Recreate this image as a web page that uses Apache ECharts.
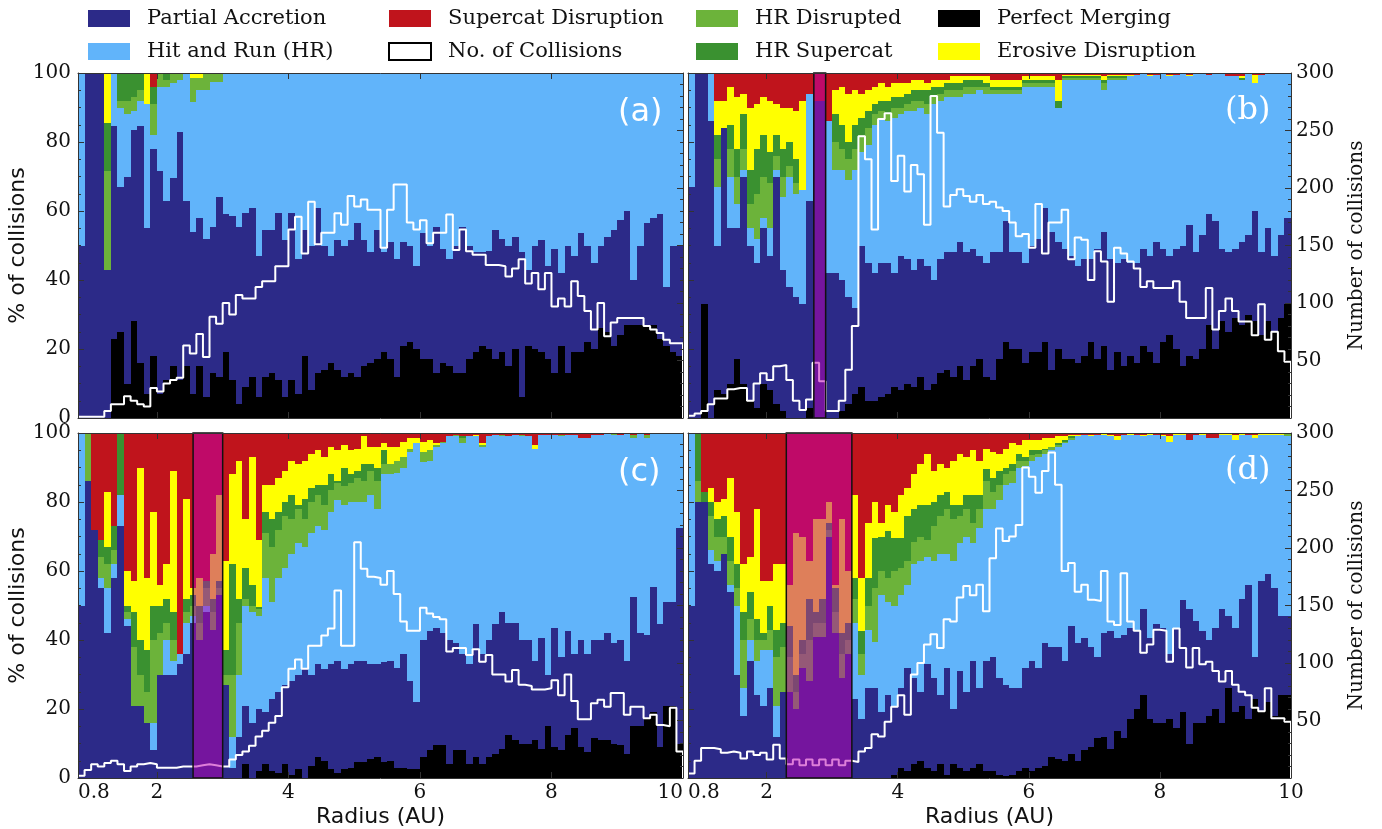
<!DOCTYPE html>
<html>
<head>
<meta charset="utf-8">
<title>Collision outcomes versus radius</title>
<script src="https://cdn.jsdelivr.net/npm/echarts@6.0.0/dist/echarts.min.js"></script>
<style>
html,body{margin:0;padding:0;background:#ffffff;}
#chart{width:1382px;height:829px;}
</style>
</head>
<body>
<div id="chart"></div>
<script>
// ================= DATA =================
// Radius bins: 0.1 AU wide, starting at 0.8 AU (92 bins up to 10 AU)
const radiusStart = 0.8;
const binWidth = 0.1;
const radiusEnd = 10;
const xTickLabels = [0.8, 2, 4, 6, 8, 10];
const xTickMarks = [2, 4, 6, 8];

// Legend / stack categories (bottom -> top)
const layerNames = ['Perfect Merging', 'Partial Accretion', 'Hit and Run (HR)', 'HR Disrupted', 'HR Supercat', 'Erosive Disruption', 'Supercat Disruption'];
const lineName = 'No. of Collisions';

// Each panel: cumulative top (% of collisions) of PM, PA, HR, HR Disrupted, HR Supercat, Erosive; Supercat fills to 100.
// ---- Panel (a)
const aPM = [0,0,0,0,0,23,25,10,28,16,
 7,18,7,11,15,11,15,7,15,6,
 13,12,19,11,4,9,12,6,12,13,
 11,6,11,7,18,8,13,14,16,14,
 12,13,12,15,16,17,19,17,12,21,
 22,20,17,17,13,16,15,13,13,17,
 19,21,20,17,19,15,20,6,21,20,
 19,17,13,21,13,19,19,22,20,26,
 25,21,24,27,27,27,27,27,23,21,
 19,18];
const aPA = [50,100,100,100,43,84.5,67,70,83.5,84.5,
 55,78,71.5,63,69.5,83,63,54,58,52,
 55.5,64,59,58.5,55.5,59.5,61,47,54.5,54.5,
 59.5,51.5,59.5,46,54.5,50,61,50,47,51.5,
 50,51.5,56.5,51.5,48,54.5,48,51,46,51,
 50,44,53.5,50,55.5,49,46,50,55.5,50,
 48,48,48.5,54.5,52,50,52.5,48,43,50,
 51.5,44,49,42,50,47,53.5,50,45,50,
 52.5,54.5,57.5,60,40,50,56.5,58,59,38,
 50,50];
const aHR = [100,100,100,100,43,100,90,88,89,92,
 91,82,96,96,97,98,100,91.5,95,95,
 97.5,97.5,100,100,100,100,100,100,100,100,
 100,100,100,100,100,100,100,100,100,100,
 100,100,100,100,100,100,100,100,100,100,
 100,100,100,100,100,100,100,100,100,100,
 100,100,100,100,100,100,100,100,100,100,
 100,100,100,100,100,100,100,100,100,100,
 100,100,100,100,100,100,100,100,100,100,
 100,100];
const aLG = [100,100,100,100,71.5,100,92,92,93,95,
 91,91,100,98,100,100,100,98.5,98.5,100,
 100,100,100,100,100,100,100,100,100,100,
 100,100,100,100,100,100,100,100,100,100,
 100,100,100,100,100,100,100,100,100,100,
 100,100,100,100,100,100,100,100,100,100,
 100,100,100,100,100,100,100,100,100,100,
 100,100,100,100,100,100,100,100,100,100,
 100,100,100,100,100,100,100,100,100,100,
 100,100];
const aDG = [100,100,100,100,85.5,100,100,100,100,100,
 91,96,100,100,100,100,100,98.5,98.5,100,
 100,100,100,100,100,100,100,100,100,100,
 100,100,100,100,100,100,100,100,100,100,
 100,100,100,100,100,100,100,100,100,100,
 100,100,100,100,100,100,100,100,100,100,
 100,100,100,100,100,100,100,100,100,100,
 100,100,100,100,100,100,100,100,100,100,
 100,100,100,100,100,100,100,100,100,100,
 100,100];
const aY = [100,100,100,100,100,100,100,100,100,100,
 100,96,100,100,100,100,100,100,100,100,
 100,100,100,100,100,100,100,100,100,100,
 100,100,100,100,100,100,100,100,100,100,
 100,100,100,100,100,100,100,100,100,100,
 100,100,100,100,100,100,100,100,100,100,
 100,100,100,100,100,100,100,100,100,100,
 100,100,100,100,100,100,100,100,100,100,
 100,100,100,100,100,100,100,100,100,100,
 100,100];
const aN = [1,1,1,1,6,12,12,19,15,12,
 10,26,23,30,33,35,63,56,73,53,
 88,82,100,90,107,104,104,114,119,119,
 132,132,164,175,143,188,151,161,161,178,
 168,193,184,190,181,181,148,181,203,203,
 170,164,172,152,161,161,177,146,164,145,
 142,142,133,133,132,123,130,138,117,126,
 112,126,97,104,97,119,106,93,77,100,
 71,83,87,87,87,87,80,77,74,68,
 65,65];

// ---- Panel (b)
const bPM = [0,0,33,0,8,7,10,17,10,5,
 3,10,8,4,2,0,0,0,3,0,
 0,0,0,2,4,7,9,5,5,6,
 7,9,8,10,9,12,8,10,13,14,
 12,15,11,15,17,12,11,17,22,20,
 20,16,19,19,22,14,20,17,17,16,
 18,22,17,21,14,19,15,18,16,21,
 19,16,22,24,20,15,18,17,20,27,
 20,28,25,29,27,30,28,24,28,25,
 29,33];
const bPA = [67,100,100,86,50,84,55,55,70,50,
 45,55,47,70,43,38,35,33,63,92,
 92,42,42,40,35,32,50,45,42,45,
 45,42,47,46,43,46,44,40,46,48,
 48,51,48,49,47,45,48,48,57,48,
 48,45,50,52,61,54,51,49,47,44,
 46,46,49,54,46,45,46,45,45,49,
 47,51,49,47,49,50,56,48,53,59,
 57,49,48,49,51,53,60,48,55,47,
 53,58];
const bHR = [100,100,100,100,67,84,70,62,72,55,
 52,58,55,72,64,70,65,66,94,92,
 92,86,72,72,69,72,77,79,85,87,
 86,87,88,89,89,90,88,91,92,93,
 93,93,94,94,95,94,94,94,94,94,
 94,96,96,96,96,96,90,98,98,98,
 98,98,98,95,98,98,98,99,99.5,100,
 99,99.5,100,99,99.5,100,99,100,100,99.5,
 100,100,99,99,98,100,97,99.5,100,100,
 100,100];
const bLG = [100,100,100,100,75,84,78,70,78,62,
 65,70,68,76,70,73,68,66,94,92,
 92,86,80,78,75,78,82,84,88,89,
 88,90,90,91,92,92,91,93,94,95,
 95,95,96,96,96,96,95,95,95,95,
 95,97,97,97,97,97,90,98.5,98.5,98.5,
 98.5,98.5,98.5,97,98.5,98.5,98.5,99,99.5,100,
 99,99.5,100,99,99.5,100,99,100,100,99.5,
 100,100,99,99,98,100,97,99.5,100,100,
 100,100];
const bDG = [100,100,100,100,82,84,85,78,88,72,
 78,82,77,82,78,80,75,66,94,92,
 92,86,88,85,80,85,87,89,91,92,
 92,93,93,94,95,95,95,96,96,97,
 97,97,98,98,98,97,96,96,96,96,
 96,98,98,98,98,98,92,99,99,99,
 99,99,99,98,99,99,99,99,99.5,100,
 99,99.5,100,99,99.5,100,99,100,100,99.5,
 100,100,99,99,98.5,100,97,99.5,100,100,
 100,100];
const bY = [100,100,100,100,92,92,96,93,94,90,
 91,93,92,91,90,90,89,92,94,92,
 92,86,95,96,94,95,94,95,96,97,
 96,97,97,97,98,98,97,98,98,98,
 99,99,99,99,99,99,98,98,98,98,
 98,99,99,99,99,99,98,99.5,99.5,99.5,
 99.5,99.5,99.5,99,99.5,99.5,99.5,99.5,99.5,100,
 99.5,99.5,100,99.5,99.5,100,99.5,100,100,99.5,
 100,100,99,99,99,100,99.5,99.5,100,100,
 100,100];
const bN = [2,4,6,12,17,17,25,26,26,15,
 30,39,33,45,46,33,15,7,16,48,
 32,6,6,15,42,80,245,225,164,260,
 265,206,228,197,220,212,168,280,248,184,
 194,199,193,188,194,186,188,183,180,170,
 158,160,148,186,143,170,170,181,138,157,
 155,120,145,136,101,148,143,136,130,114,
 119,113,113,113,119,101,87,87,87,113,
 77,93,104,93,84,84,72,99,68,75,
 58,49];

// ---- Panel (c)
const cPM = [0,0,0,0,0,0,0,0,0,0,
 0,0,0,0,0,0,0,0,0,0,
 0,0,0,0,0,4,0,2,4,2,
 1.5,4,1,2.5,0,3.5,6,5,2.5,1.5,
 2.5,3,4.5,4.5,5.5,6,4.5,5,3,3,
 2.5,2.5,6,8,9.5,9.5,4,8,8,4,
 6,4,6,7,8.5,12.5,11,10,10,11,
 8.5,15,9,8,12.5,14.5,9,7.5,11.5,11,
 11,10,9.5,7,15,15,17,19,9,21,
 21,10];
const cPA = [50,86,72,55,42,58,73,44,21,21,
 16,8,30,30,30,33,36,45,40,48,
 43,53,27,3,12,21,16,20,19,23,
 25,27,28,30,31.5,30,33,31.5,33,34,
 31.5,33,34,34,33,33,33.5,34,32,36,
 28,22,40,42.5,43.5,42,40,39,36,33,
 44.5,36,40,44.5,48,45,45,40,40,34,
 40.5,30,43.5,35,42.5,36,40,36,40,40,
 42,39,40,34,52.5,42,41.5,55.5,44.5,51,
 51,72.5];
const cHR = [100,86,72,58,55,62,82,46,21,21,
 16,16,30,40,34,36,45,47,40,50,
 43,53,27,12,30,50,48,47,58,51,
 58,61,65,68,67,71,73,72,77,80.5,
 79,80,80,80,82,78,88,88,88.5,90,
 94.5,97,91.5,92,96,97,99,99,97,99,
 99,96,99,99.5,99,99,99.5,99,99,95.5,
 99.5,99.5,99.5,99,99.5,99.5,98.5,98.5,99.5,99.5,
 100,99.5,99.5,100,98.5,100,98.5,100,100,100,
 100,100];
const cLG = [100,100,72,64,62,66,82,48,38,30,
 25,40,42,45,40,36,48,50,45,55,
 48,55,30,30,45,52,50,49,71,67,
 72,76,75,78,75,80,82,79,83.5,85.5,
 84.5,85.5,87,86,89,86,91,91,92,93,
 95.5,97,94.5,95,96.5,97.5,99,99.5,98.5,99,
 99,96.5,99,99.5,99.5,99,99.5,99.5,99,95.5,
 99.5,99.5,99.5,99.5,99.5,99.5,98.5,98.5,99.5,99.5,
 100,100,99.5,100,99.5,100,99.5,100,100,100,
 100,100];
const cDG = [100,100,72,69,67,73,100,50,48,40,
 37,50,50,52,48,36,52,53,50,57,
 52,57,37,62,52,61,56,49.5,77,75,
 77,80,82,79,81,84,85,85,88,86,
 90,88,89,91,91,90,95,91,92,93,
 95.5,97,94.5,95,96.5,97.5,99,99.5,99,99,
 99,96.5,99,99.5,99.5,99,99.5,99.5,99,95.5,
 99.5,99.5,99.5,99.5,99.5,99.5,98.5,98.5,99.5,99.5,
 100,100,99.5,100,99.5,100,99.5,100,100,100,
 100,100];
const cY = [100,100,72,69,83,73,100,60,57,90,
 58,77,56,62,89,36,81,55,58,57,
 65,82,63,88,92,75,93,69,85,85,
 87,89,92,91,92,94,95,93,96,95,
 96.5,95,95.5,99,96,96,97,96,96,97.5,
 98.5,98.5,97.5,98,97,97.5,99,99.5,99,99,
 99.5,97,99,99.5,99.5,99,99.5,99.5,99,96.5,
 99.5,99.5,99.5,99.5,99.5,99.5,98.5,98.5,99.5,99.5,
 100,100,99.5,100,99.5,100,99.5,100,100,100,
 100,100];
const cN = [2,7,12,10,13,15,12,6,10,12,
 13,12,9,9,9,10,10,10,11,12,
 11,10,10,16,20,23,28,36,41,48,
 54,79,95,103,95,115,115,124,130,163,
 115,115,205,182,175,174,168,180,160,136,
 128,128,148,143,140,138,110,113,113,107,
 112,101,107,90,90,84,94,81,80,77,
 77,78,85,72,90,67,51,51,65,68,
 62,74,74,55,62,62,52,55,46,45,
 61,23];

// ---- Panel (d)
const dPM = [0,0,0,0,0,0,0,0,0,0,
 0,0,0,0,0,0,0,0,0,0,
 0,0,0,0,0,0,0,0,0,0,
 0,1,3,2,4,5,3,2,4,1,
 4,3,2,3,4,2,2,1,0.5,1,
 2,3,2,3,3.5,6,5.5,5,7,5,
 8,9,11.5,12,8.5,13.5,11.5,17,20,24,
 17,16,16,17,14.5,19,10,16,16,18,
 20,16,26,19,21,17,23,19,22,18,
 24,24];
const dPA = [50,80,80,62,60,65,54,30,18,34,
 24,21,26,12,25,25,20,32,28,41,
 41,70,42,29,36,23,17,26,26,19,
 24,21,26,32,29,25,33,29,24,32,
 20,31,25,34,26,34,35,29,27,26,
 26,32,34,32,39,38,38,34,44,39,
 40.5,38,35,42,42.5,40.5,41.5,43.5,42.5,49,
 40.5,44.5,43.5,36,43.5,51.5,49,45.5,42.5,40,
 43.5,49,47,43.5,52,56,35,57,59,55,
 47,47];
const dHR = [100,80,80,66,63,65,56,50,26,40,
 34,37,37,21,25,25,20,32,28,41,
 41,70,42,29,36,45,30,43,39.5,53,
 51,50,53,56,62,63,64,63,65,65,
 63,68,70,68,72.5,78,78,80.5,85,85.5,
 90,90.5,92,93,94,95,96,97,98,99,
 99.5,99,99.5,99.5,99,98,99.5,99.5,99.5,99,
 99.5,99.5,99,97.5,99.5,99.5,98,99.5,99.5,98.5,
 98.5,99.5,99.5,98,99.5,99.5,98.5,99.5,99.5,99.5,
 99.5,99];
const dLG = [100,86,80,76,70,70,63,55,40,46,
 40,40,43,35,38,35,25,36,40,45,
 45,72,48,36,40,52,36,50,55,60,
 58,60,61,63,68.5,70,69,73,76,78,
 75,76,78,74,78,86,83,85,88,89,
 92,92,93.5,94,95,96,96.5,97.5,98.5,99,
 99.5,99,99.5,99.5,99,98,99.5,99.5,99.5,99,
 99.5,99.5,99,97.5,99.5,99.5,98,99.5,99.5,98.5,
 98.5,99.5,99.5,98,99.5,99.5,98.5,99.5,99.5,99.5,
 99.5,100];
const dDG = [100,100,83,80,75,76,70,62,48,54,
 46,42,50,43,45,44,30,40,52,48,
 52,74,55,42,45,58,42.5,58,69.5,70,
 71.5,69.5,69.5,76,78,79,79,80,82,83,
 79,79,82,82,82,89.5,87,89,90,91,
 94,93,95,95,95.5,96,97,98,99,99,
 99.5,99,99.5,99.5,99,98,99.5,99.5,99.5,99,
 99.5,99.5,99,97.5,99.5,99.5,98,99.5,99.5,98.5,
 98.5,99.5,99.5,98,99.5,99.5,98.5,99.5,99.5,99.5,
 99.5,100];
const dY = [100,100,83,84,80,81,87,77,62,64,
 78,57,57,62,62,56,71,70,63,75,
 75,80,56,75,60,82,58,74,80,74,
 79,77,82,84,88,91,94,89,91,90,
 92,94,93,95,92,95.5,94.5,94,95.5,97,
 96.5,98,98,98,98.5,98.5,99,99,99.5,99.5,
 99.5,99.5,99.5,100,99.5,99,99.5,100,99.5,99.5,
 100,99.5,99.5,99,100,100,98,99.5,100,98.5,
 98.5,100,100,99.5,100,99.5,99.5,100,100,100,
 100,100];
const dN = [4,15,26,26,25,22,23,22,17,23,
 20,22,16,29,17,12,16,11,16,11,
 16,11,16,11,15,14,23,26,38,36,
 49,62,72,55,90,100,116,125,113,138,
 136,157,167,159,168,145,191,217,206,210,
 220,270,262,248,267,283,255,180,187,162,
 168,155,154,180,136,133,178,136,128,109,
 116,129,128,101,130,113,96,113,99,101,
 93,84,93,81,75,72,61,58,78,52,
 52,49];

// Shaded radius ranges (AU)
const bandB = [2.72, 2.9];
const bandC = [2.55, 3.0];
const bandD = [2.3, 3.3];
const panelLabels = ['(a)', '(b)', '(c)', '(d)'];

// ================= STYLE / LAYOUT =================
const layerColors = ['#000000', '#2c2a88', '#61b4fa', '#6cb33a', '#3a9130', '#ffff00', '#c0141c'];
const serif = "'DejaVu Serif', 'Liberation Serif', serif";
const sans = "'DejaVu Sans', 'Liberation Sans', sans-serif";
const frame = '#333333';

const panels = [
  {tops: [aPM, aPA, aHR, aLG, aDG, aY], count: aN, band: null,  grid: {left: 78,  top: 73,  width: 605, height: 345}, labelPos: [618, 97],  labelFont: sans},
  {tops: [bPM, bPA, bHR, bLG, bDG, bY], count: bN, band: bandB, grid: {left: 688, top: 73,  width: 603, height: 345}, labelPos: [1225, 95], labelFont: serif},
  {tops: [cPM, cPA, cHR, cLG, cDG, cY], count: cN, band: bandC, grid: {left: 78,  top: 433, width: 605, height: 345}, labelPos: [618, 457], labelFont: sans},
  {tops: [dPM, dPA, dHR, dLG, dDG, dY], count: dN, band: bandD, grid: {left: 688, top: 433, width: 603, height: 345}, labelPos: [1225, 455], labelFont: serif}
];

function renderBar(params, api) {
  const y0 = api.value(2), y1 = api.value(3);
  if (!(y1 > y0)) return null;
  const a = api.coord([api.value(0), y1]);
  const b = api.coord([api.value(1), y0]);
  const L = Math.round(a[0]), R = Math.round(b[0]);
  const T = Math.round(a[1]), B = Math.round(b[1]);
  if (B - T <= 0) return null;
  return {type: 'rect', shape: {x: L, y: T, width: R - L, height: B - T}, style: {fill: api.visual('color')}};
}
function renderBand(params, api) {
  const a = api.coord([api.value(0), api.value(3)]);
  const b = api.coord([api.value(1), api.value(2)]);
  return {type: 'rect', shape: {x: a[0], y: a[1], width: b[0] - a[0], height: b[1] - a[1]},
          style: {fill: 'rgba(190,0,180,0.5)', stroke: '#111', lineWidth: 1.5}};
}

const grids = [], xAxes = [], yAxes = [], series = [], titles = [];

panels.forEach((P, p) => {
  grids.push(Object.assign({containLabel: false}, P.grid));
  const bottomRow = p >= 2, rightCol = p % 2 === 1;
  xAxes.push({
    gridIndex: p, type: 'value', min: radiusStart, max: radiusEnd, position: 'bottom', z: 10,
    axisLine: {show: true, onZero: false, lineStyle: {color: frame, width: 1}},
    axisTick: {show: true, inside: true, length: 6, customValues: xTickMarks, lineStyle: {color: frame}},
    axisLabel: {show: bottomRow, customValues: xTickLabels, color: '#111', fontFamily: serif, fontSize: 20, margin: 5,
                alignMinLabel: 'left', alignMaxLabel: rightCol ? 'center' : 'right'},
    splitLine: {show: false},
    name: bottomRow ? 'Radius (AU)' : '', nameLocation: 'middle', nameGap: 28,
    nameTextStyle: {fontFamily: sans, fontSize: 22, color: '#111'}
  });
  xAxes.push({
    gridIndex: p, type: 'value', min: radiusStart, max: radiusEnd, position: 'top', z: 10,
    axisLine: {show: true, onZero: false, lineStyle: {color: frame, width: 1}},
    axisTick: {show: true, inside: true, length: 6, customValues: xTickMarks, lineStyle: {color: frame}},
    axisLabel: {show: false}, splitLine: {show: false}
  });
  yAxes.push({
    gridIndex: p, type: 'value', min: 0, max: 100, interval: 20, position: 'left', z: 10,
    axisLine: {show: true, onZero: false, lineStyle: {color: frame, width: 1}},
    axisTick: {show: true, inside: true, length: 6, lineStyle: {color: frame}},
    minorTick: {show: true, splitNumber: 4, length: 3, lineStyle: {color: frame}},
    axisLabel: {show: !rightCol, color: '#111', fontFamily: serif, fontSize: 20, margin: 7},
    splitLine: {show: false},
    name: rightCol ? '' : '% of collisions', nameLocation: 'middle', nameRotate: 90, nameGap: 46,
    nameTextStyle: {fontFamily: sans, fontSize: 22, color: '#111'}
  });
  yAxes.push({
    gridIndex: p, type: 'value', min: 0, max: 300, interval: 50, position: 'right', z: 10,
    axisLine: {show: true, onZero: false, lineStyle: {color: frame, width: 1}},
    axisTick: {show: true, inside: true, length: 6, lineStyle: {color: frame}},
    minorTick: {show: true, splitNumber: 5, length: 3, lineStyle: {color: frame}},
    axisLabel: {show: rightCol, color: '#111', fontFamily: serif, fontSize: 20, margin: 5,
                formatter: v => (v === 0 ? '' : String(v))},
    splitLine: {show: false},
    name: rightCol ? 'Number of collisions' : '', nameLocation: 'middle', nameRotate: 90, nameGap: 56,
    nameTextStyle: {fontFamily: serif, fontSize: 20, color: '#111'}
  });

  // stacked layers
  const nBins = P.count.length;
  for (let k = 0; k < layerNames.length; k++) {
    const data = [];
    for (let i = 0; i < nBins; i++) {
      const x0 = +(radiusStart + i * binWidth).toFixed(2);
      const x1 = +(x0 + binWidth).toFixed(2);
      const lo = k === 0 ? 0 : P.tops[k - 1][i];
      const hi = k === layerNames.length - 1 ? 100 : P.tops[k][i];
      data.push([x0, x1, lo, hi]);
    }
    series.push({
      type: 'custom', name: layerNames[k], xAxisIndex: 2 * p, yAxisIndex: 2 * p,
      renderItem: renderBar, encode: {x: [0, 1], y: [2, 3]},
      itemStyle: {color: layerColors[k]}, data: data, z: 2, silent: true
    });
  }
  // collisions histogram (step line)
  const pts = [];
  for (let i = 0; i < nBins; i++) pts.push([+(radiusStart + i * binWidth).toFixed(2), P.count[i]]);
  pts.push([radiusEnd, P.count[nBins - 1]]);
  pts.push([radiusEnd, 0]);
  series.push({
    type: 'line', name: lineName, xAxisIndex: 2 * p, yAxisIndex: 2 * p + 1, step: 'end',
    symbol: 'none', data: pts, z: 4, silent: true,
    lineStyle: {color: '#ffffff', width: 2}, itemStyle: {color: '#ffffff', borderColor: '#000'}
  });
  if (P.band) {
    series.push({
      type: 'custom', xAxisIndex: 2 * p, yAxisIndex: 2 * p, renderItem: renderBand,
      encode: {x: [0, 1], y: [2, 3]}, data: [[P.band[0], P.band[1], 0, 100]], z: 6, silent: true
    });
  }
  titles.push({
    text: panelLabels[p], left: P.labelPos[0], top: P.labelPos[1], padding: 0,
    textStyle: {color: '#ffffff', fontFamily: P.labelFont, fontSize: 32, fontWeight: 'normal'}
  });
});

function legendCol(left, names) {
  return {
    orient: 'vertical', left: left, top: 8, padding: 0, itemWidth: 42, itemHeight: 17, itemGap: 12,
    selectedMode: false,
    textStyle: {fontFamily: serif, fontSize: 21, color: '#111', padding: [0, 0, 0, 12]},
    data: names.map(n => n === lineName
      ? {name: n, icon: 'rect', itemStyle: {color: '#ffffff', borderColor: '#000000', borderWidth: 2}}
      : {name: n, icon: 'rect'})
  };
}

const option = {
  animation: false,
  backgroundColor: '#ffffff',
  title: titles,
  legend: [
    legendCol(88, ['Partial Accretion', 'Hit and Run (HR)']),
    legendCol(388, ['Supercat Disruption', 'No. of Collisions']),
    legendCol(696, ['HR Disrupted', 'HR Supercat']),
    legendCol(938, ['Perfect Merging', 'Erosive Disruption'])
  ],
  grid: grids,
  xAxis: xAxes,
  yAxis: yAxes,
  series: series
};

const chart = echarts.init(document.getElementById('chart'), null, {renderer: 'canvas', width: 1382, height: 829});
chart.setOption(option);
</script>
</body>
</html>
